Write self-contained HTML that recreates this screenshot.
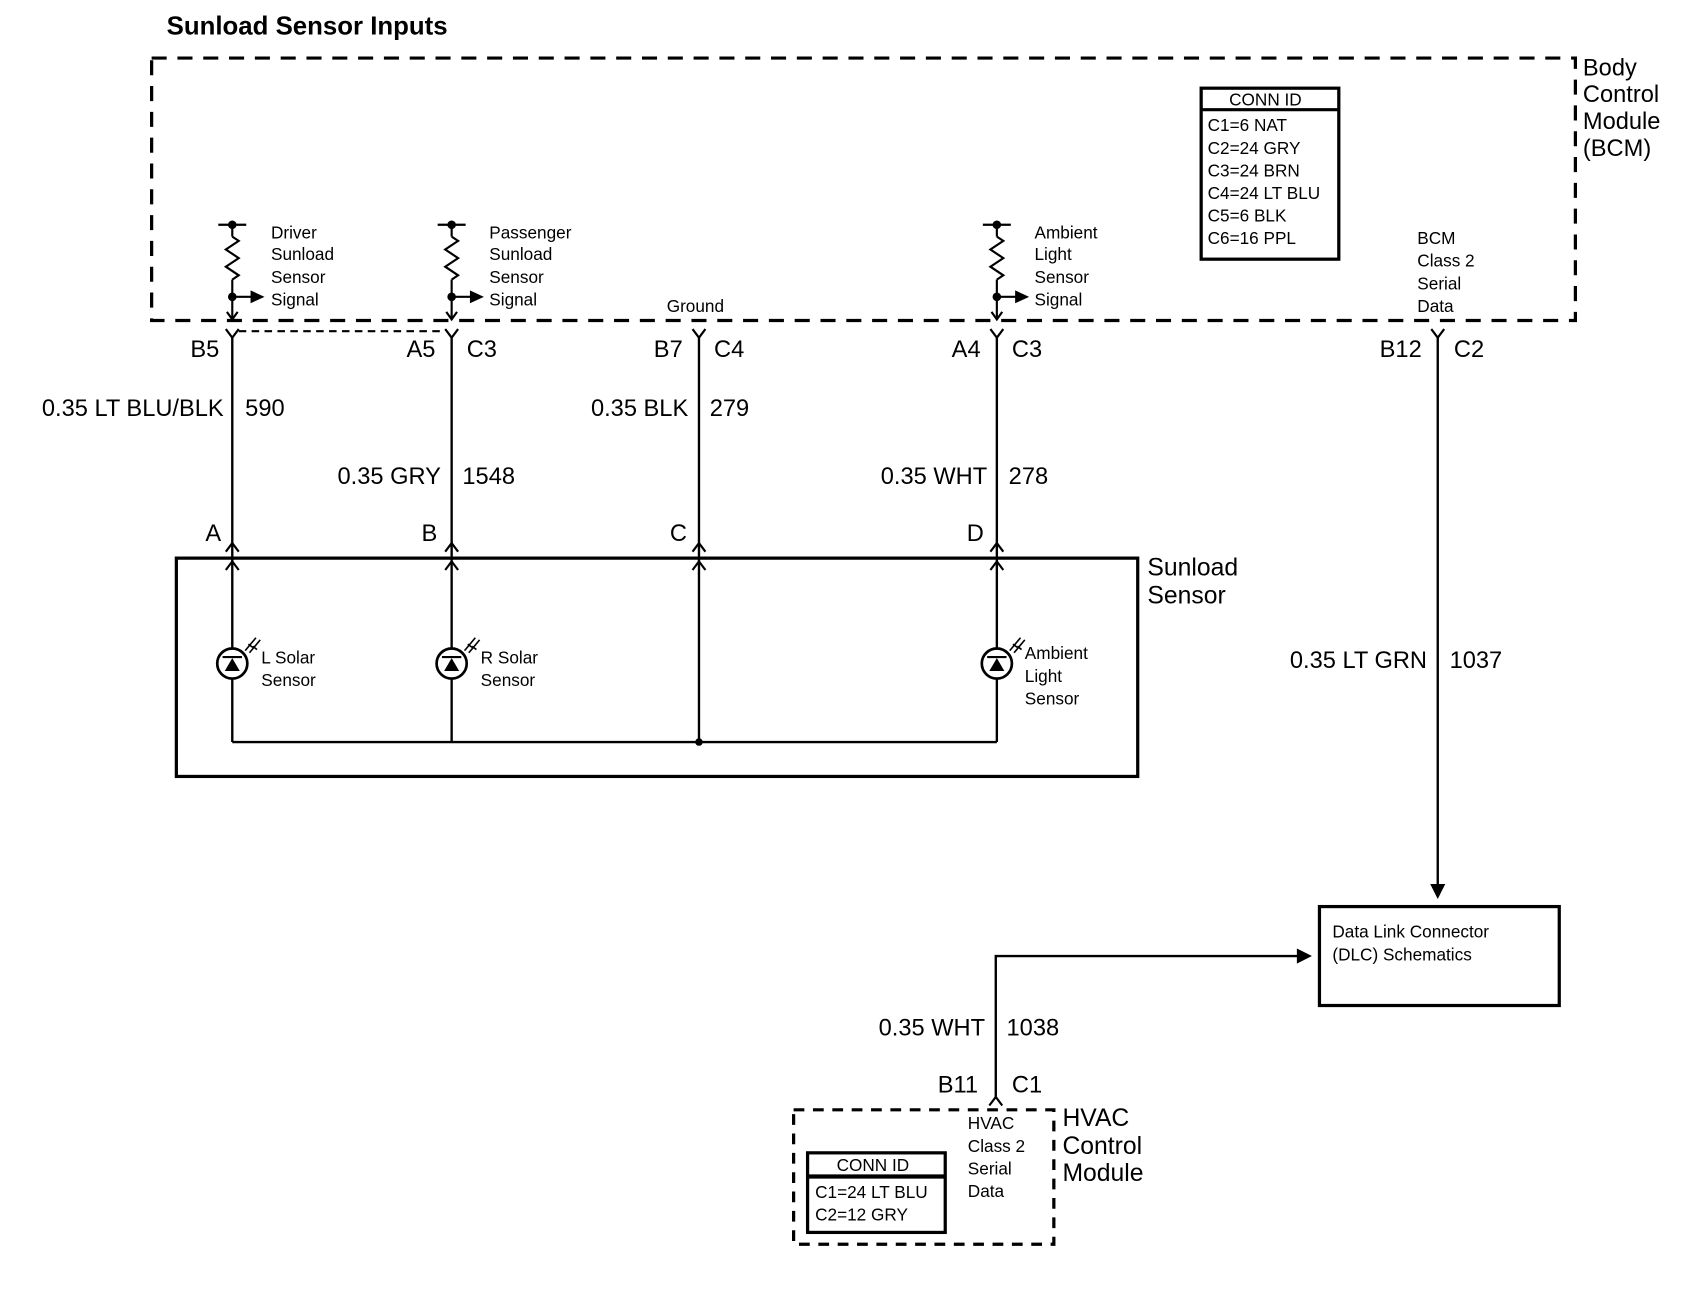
<!DOCTYPE html>
<html><head><meta charset="utf-8"><style>
html,body{margin:0;padding:0;background:#fff;}
svg{display:block;}
text{font-family:"Liberation Sans",sans-serif;fill:#000;}
.s{font-size:16px;}
.m{font-size:22px;}
.l{font-size:23px;}
</style></head><body>
<svg width="1684" height="1312" viewBox="0 0 1566 1220" preserveAspectRatio="none" xmlns="http://www.w3.org/2000/svg">
<defs>
<g id="res" stroke="#000" stroke-width="2" fill="none">
<line x1="-13" y1="209" x2="13" y2="209"/>
<circle cx="0" cy="209" r="3" fill="#000"/>
<line x1="0" y1="209" x2="0" y2="220"/>
<polyline points="0,220 6,224 -6,232 6,240 -6,248 6,256 0,260"/>
<line x1="0" y1="260" x2="0" y2="297"/>
<circle cx="0" cy="276" r="3" fill="#000"/>
<line x1="0" y1="276" x2="18" y2="276"/>
<polygon points="17,270 30,276 17,282" fill="#000" stroke="none"/>
<polyline points="-5,290 0,297 5,290"/>
</g>
<g id="dio" stroke="#000" stroke-width="2" fill="none">
<circle cx="0" cy="0" r="14" stroke-width="2.5"/>
<polygon points="-7,7 7,7 0,-5" fill="#000" stroke="none"/>
<line x1="-9" y1="-6" x2="9" y2="-6"/>
<line x1="12" y1="-12" x2="22" y2="-24" stroke-width="1.5"/>
<line x1="16" y1="-10" x2="26" y2="-22" stroke-width="1.5"/>
<line x1="15" y1="-18" x2="19" y2="-15" stroke-width="1.5"/>
<line x1="19" y1="-16" x2="23" y2="-13" stroke-width="1.5"/>
</g>
<g id="yf" stroke="#000" stroke-width="2" fill="none"><polyline points="-6,306 0,314 6,306"/></g>
<g id="up" stroke="#000" stroke-width="2" fill="none"><polyline points="-6,513 0,505 6,513"/><polyline points="-6,530 0,522 6,530"/></g>
</defs>

<text x="155" y="32" style="font-size:24px;font-weight:bold">Sunload Sensor Inputs</text>

<rect x="141" y="54" width="1324" height="244" fill="none" stroke="#000" stroke-width="3" stroke-dasharray="14,10"/>
<text class="m" x="1472" y="70">Body</text>
<text class="m" x="1472" y="95">Control</text>
<text class="m" x="1472" y="120">Module</text>
<text class="m" x="1472" y="145">(BCM)</text>

<rect x="1117" y="82" width="128" height="159" fill="none" stroke="#000" stroke-width="3"/>
<line x1="1117" y1="102" x2="1245" y2="102" stroke="#000" stroke-width="3"/>
<text class="s" x="1143" y="98">CONN ID</text>
<text class="s" x="1123" y="122">C1=6 NAT</text>
<text class="s" x="1123" y="143">C2=24 GRY</text>
<text class="s" x="1123" y="164">C3=24 BRN</text>
<text class="s" x="1123" y="185">C4=24 LT BLU</text>
<text class="s" x="1123" y="206">C5=6 BLK</text>
<text class="s" x="1123" y="227">C6=16 PPL</text>

<text class="s" x="1318" y="227">BCM</text>
<text class="s" x="1318" y="248">Class 2</text>
<text class="s" x="1318" y="269">Serial</text>
<text class="s" x="1318" y="290">Data</text>

<use href="#res" x="216"/>
<use href="#res" x="420"/>
<use href="#res" x="927"/>
<text class="s" x="252" y="222">Driver</text>
<text class="s" x="252" y="242">Sunload</text>
<text class="s" x="252" y="263">Sensor</text>
<text class="s" x="252" y="284">Signal</text>
<text class="s" x="455" y="222">Passenger</text>
<text class="s" x="455" y="242">Sunload</text>
<text class="s" x="455" y="263">Sensor</text>
<text class="s" x="455" y="284">Signal</text>
<text class="s" x="962" y="222">Ambient</text>
<text class="s" x="962" y="242">Light</text>
<text class="s" x="962" y="263">Sensor</text>
<text class="s" x="962" y="284">Signal</text>
<text class="s" x="620" y="290">Ground</text>

<use href="#yf" x="216"/><use href="#yf" x="420"/><use href="#yf" x="650"/><use href="#yf" x="927"/><use href="#yf" x="1337"/>
<line x1="222" y1="308" x2="414" y2="308" stroke="#000" stroke-width="2" stroke-dasharray="7,5"/>

<g stroke="#000" stroke-width="2.2">
<line x1="216" y1="314" x2="216" y2="690"/>
<line x1="420" y1="314" x2="420" y2="690"/>
<line x1="650" y1="314" x2="650" y2="690"/>
<line x1="927" y1="314" x2="927" y2="690"/>
<line x1="216" y1="690" x2="927" y2="690"/>
<line x1="1337" y1="314" x2="1337" y2="825"/>
<polyline points="926,1020 926,889 1208,889" fill="none"/>
</g>
<circle cx="650" cy="690" r="3.5"/>
<polygon points="1330,822 1344,822 1337,836"/>
<polygon points="1206,882 1206,896 1220,889"/>

<text class="m" x="177" y="332">B5</text>
<text class="m" x="378" y="332">A5</text><text class="m" x="434" y="332">C3</text>
<text class="m" x="608" y="332">B7</text><text class="m" x="664" y="332">C4</text>
<text class="m" x="885" y="332">A4</text><text class="m" x="941" y="332">C3</text>
<text class="m" x="1283" y="332">B12</text><text class="m" x="1352" y="332">C2</text>

<text class="m" x="208" y="387" text-anchor="end">0.35 LT BLU/BLK</text><text class="m" x="228" y="387">590</text>
<text class="m" x="410" y="450" text-anchor="end">0.35 GRY</text><text class="m" x="430" y="450">1548</text>
<text class="m" x="640" y="387" text-anchor="end">0.35 BLK</text><text class="m" x="660" y="387">279</text>
<text class="m" x="918" y="450" text-anchor="end">0.35 WHT</text><text class="m" x="938" y="450">278</text>
<text class="m" x="1327" y="621" text-anchor="end">0.35 LT GRN</text><text class="m" x="1348" y="621">1037</text>

<text class="m" x="191" y="503">A</text>
<text class="m" x="392" y="503">B</text>
<text class="m" x="623" y="503">C</text>
<text class="m" x="899" y="503">D</text>
<use href="#up" x="216"/><use href="#up" x="420"/><use href="#up" x="650"/><use href="#up" x="927"/>

<rect x="164" y="519" width="894" height="203" fill="none" stroke="#000" stroke-width="3"/>
<text class="l" x="1067" y="535">Sunload</text>
<text class="l" x="1067" y="561">Sensor</text>

<g fill="#fff"><circle cx="216" cy="617" r="14"/><circle cx="420" cy="617" r="14"/><circle cx="927" cy="617" r="14"/></g>
<use href="#dio" x="216" y="617"/><use href="#dio" x="420" y="617"/><use href="#dio" x="927" y="617"/>
<text class="s" x="243" y="617">L Solar</text><text class="s" x="243" y="638">Sensor</text>
<text class="s" x="447" y="617">R Solar</text><text class="s" x="447" y="638">Sensor</text>
<text class="s" x="953" y="613">Ambient</text><text class="s" x="953" y="634">Light</text><text class="s" x="953" y="655">Sensor</text>

<rect x="1227" y="843" width="223" height="92" fill="none" stroke="#000" stroke-width="3"/>
<text class="s" x="1239" y="872">Data Link Connector</text>
<text class="s" x="1239" y="893">(DLC) Schematics</text>

<text class="m" x="916" y="963" text-anchor="end">0.35 WHT</text><text class="m" x="936" y="963">1038</text>
<text class="m" x="872" y="1016">B11</text><text class="m" x="941" y="1016">C1</text>
<polyline points="920,1028 926,1020 932,1028" fill="none" stroke="#000" stroke-width="2"/>

<rect x="738" y="1032" width="242" height="125" fill="none" stroke="#000" stroke-width="3" stroke-dasharray="10,8"/>
<text class="l" x="988" y="1047">HVAC</text>
<text class="l" x="988" y="1073">Control</text>
<text class="l" x="988" y="1098">Module</text>
<text class="s" x="900" y="1050">HVAC</text>
<text class="s" x="900" y="1071">Class 2</text>
<text class="s" x="900" y="1092">Serial</text>
<text class="s" x="900" y="1113">Data</text>
<rect x="751" y="1072" width="128" height="74" fill="#fff" stroke="#000" stroke-width="3"/>
<line x1="751" y1="1094" x2="879" y2="1094" stroke="#000" stroke-width="4"/>
<text class="s" x="778" y="1089">CONN ID</text>
<text class="s" x="758" y="1114">C1=24 LT BLU</text>
<text class="s" x="758" y="1135">C2=12 GRY</text>
</svg>
</body></html>
